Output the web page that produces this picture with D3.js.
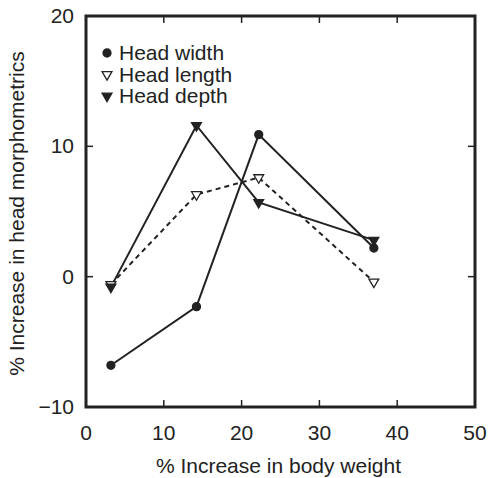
<!DOCTYPE html>
<html>
<head>
<meta charset="utf-8">
<script src="https://cdn.jsdelivr.net/npm/d3@7"></script>
<style>
  body { margin: 0; background: #fff; }
  text { font-family: "Liberation Sans", Arial, sans-serif; fill: #222; }
</style>
</head>
<body>
<svg width="488" height="478"></svg>
<script>
"use strict";

var bodyWeight = [3.2, 14.2, 22.2, 37];
var headWidth = [-6.8, -2.3, 10.9, 2.2];
var headLength = [-0.6, 6.3, 7.6, -0.4];
var headDepth = [-0.8, 11.6, 5.7, 2.8];
var seriesNames = ["Head width", "Head length", "Head depth"];
var xTicks = [0, 10, 20, 30, 40, 50];
var yTicks = [-10, 0, 10, 20];

var svg = d3.select("svg");

var x = d3.scaleLinear().domain([0, 50]).range([86, 475]);
var y = d3.scaleLinear().domain([-10, 20]).range([407, 16]);

// inward ticks on all four sides
var g = svg.append("g");
g.selectAll(".xt").data(xTicks.slice(1, -1)).enter().append("line")
    .attr("x1", function (d) { return x(d); })
    .attr("x2", function (d) { return x(d); })
    .attr("y1", y(-10)).attr("y2", y(-10) - 7)
    .attr("stroke", "#222").attr("stroke-width", 1.5);
g.selectAll(".xt2").data(xTicks.slice(1, -1)).enter().append("line")
    .attr("x1", function (d) { return x(d); })
    .attr("x2", function (d) { return x(d); })
    .attr("y1", y(20)).attr("y2", y(20) + 7)
    .attr("stroke", "#222").attr("stroke-width", 1.5);
g.selectAll(".yt").data(yTicks.slice(1, -1)).enter().append("line")
    .attr("x1", x(0)).attr("x2", x(0) + 7)
    .attr("y1", function (d) { return y(d); })
    .attr("y2", function (d) { return y(d); })
    .attr("stroke", "#222").attr("stroke-width", 1.5);
g.selectAll(".yt2").data(yTicks.slice(1, -1)).enter().append("line")
    .attr("x1", x(50)).attr("x2", x(50) - 7)
    .attr("y1", function (d) { return y(d); })
    .attr("y2", function (d) { return y(d); })
    .attr("stroke", "#222").attr("stroke-width", 1.5);

// frame
svg.append("rect")
    .attr("x", x(0)).attr("y", y(20))
    .attr("width", x(50) - x(0)).attr("height", y(-10) - y(20))
    .attr("fill", "none").attr("stroke", "#222").attr("stroke-width", 3);

// tick labels
svg.selectAll(".xl").data(xTicks).enter().append("text")
    .attr("x", function (d) { return x(d); })
    .attr("y", 440)
    .attr("text-anchor", "middle")
    .attr("font-size", 21)
    .text(function (d) { return d; });
svg.selectAll(".yl").data(yTicks).enter().append("text")
    .attr("x", 74)
    .attr("y", function (d) { return y(d) + 7; })
    .attr("text-anchor", "end")
    .attr("font-size", 21)
    .text(function (d) { return d < 0 ? "\u2212" + Math.abs(d) : d; });

// axis titles
svg.append("text")
    .attr("x", x(25) - 2).attr("y", 473)
    .attr("text-anchor", "middle").attr("font-size", 21)
    .text("% Increase in body weight");
svg.append("text")
    .attr("transform", "translate(24," + (y(5) + 2) + ") rotate(-90)")
    .attr("text-anchor", "middle").attr("font-size", 21)
    .text("% Increase in head morphometrics");

var line = d3.line()
    .x(function (d, i) { return x(bodyWeight[i]); })
    .y(function (d) { return y(d); });

var series = [
    { values: headLength, dash: "5,4", symbol: d3.symbolTriangle, fill: "#fff" },
    { values: headWidth, dash: null, symbol: d3.symbolCircle, fill: "#222" },
    { values: headDepth, dash: null, symbol: d3.symbolTriangle, fill: "#222" }
];

series.forEach(function (s) {
    svg.append("path")
        .attr("d", line(s.values))
        .attr("fill", "none")
        .attr("stroke", "#222")
        .attr("stroke-width", 2)
        .attr("stroke-dasharray", s.dash);
});

function marker(sel, s) {
    var isTri = s.symbol === d3.symbolTriangle;
    sel.attr("d", d3.symbol().type(s.symbol).size(isTri ? 42 : 50)())
        .attr("fill", s.fill)
        .attr("stroke", "#222")
        .attr("stroke-width", 1.3);
}

series.forEach(function (s) {
    var isTri = s.symbol === d3.symbolTriangle;
    svg.selectAll(null).data(s.values).enter().append("path")
        .attr("transform", function (d, i) {
            return "translate(" + x(bodyWeight[i]) + "," + y(d) + ")" + (isTri ? " rotate(180)" : "");
        })
        .call(marker, s);
});

// legend
var legendOrder = [series[1], series[0], series[2]];
legendOrder.forEach(function (s, i) {
    var yy = 53 + i * 21.5;
    var isTri = s.symbol === d3.symbolTriangle;
    svg.append("path")
        .attr("transform", "translate(107," + yy + ")" + (isTri ? " rotate(180)" : ""))
        .call(marker, s);
    svg.append("text")
        .attr("x", 119).attr("y", yy + 7)
        .attr("font-size", 21)
        .text(seriesNames[i]);
});
</script>
</body>
</html>
